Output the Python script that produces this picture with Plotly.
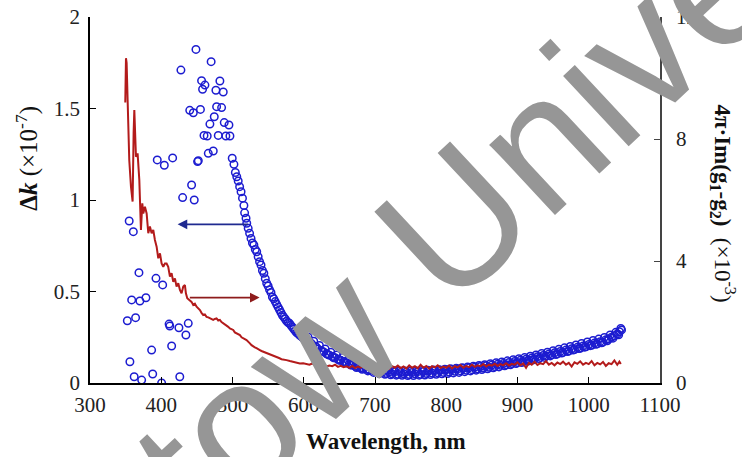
import plotly.graph_objects as go

# ---- Δk (left axis), scattered points at short wavelengths ----
dk_scatter_wl = [352.4, 355, 356, 358.5, 360.8, 362, 364, 368.7, 370, 372.5, 378.5, 386.5, 388, 392.6,
                 394.4, 400.5, 402, 404.3, 411, 412, 414.6, 416, 424.8, 426, 427.6, 430, 434.6, 437.9,
                 440, 442.6, 445, 446.3, 448.7, 451, 452, 455, 456.6, 458, 460, 461.3, 464.5, 466,
                 468.3, 470, 473, 474.4, 476.7, 477.7, 480, 482.3, 484.7, 487, 488.4, 490.7, 495, 496.4]
dk_scatter = [0.34, 0.885, 0.116, 0.454, 0.827, 0.034, 0.357, 0.603, 0.448, 0.016, 0.466, 0.18, 0.049, 0.572,
              1.219, 0.0, 0.536, 1.19, 0.322, 0.311, 0.202, 1.23, 0.302, 0.034, 1.71, 1.013, 0.262, 0.326,
              1.49, 1.082, 1.477, 1.0, 1.823, 1.21, 1.215, 1.495, 1.652, 1.605, 1.353, 1.628, 1.35, 1.255,
              1.415, 1.756, 1.268, 1.455, 1.60, 1.51, 1.353, 1.65, 1.505, 1.59, 1.423, 1.35, 1.41, 1.35]

# ---- Δk (left axis), dense curve (first sampling) ----
dk_curve_wl = [499.6, 502, 504, 506, 508, 510, 512, 514, 516, 517, 519, 520, 522, 524, 526, 528, 530, 532,
               534, 536, 538, 540, 542, 544, 546, 548, 550, 552, 554, 556, 558, 560, 562, 564, 566, 568,
               570, 572, 574, 576, 578, 580, 582, 584, 586, 588, 590, 592, 594, 596, 598, 600,
               604, 608, 612, 616, 620, 624, 628, 632, 636, 640, 644, 648, 652, 656, 660, 664, 668, 672,
               676, 680, 684, 688, 692, 696, 700, 704, 708, 712, 716, 720, 724, 728, 732, 736, 740, 744,
               748, 752, 756, 760, 764, 768, 772, 776, 780, 784, 788, 792, 796, 800, 804, 808, 812, 816,
               820, 824, 828, 832, 836, 840, 844, 848, 852, 856, 860, 864, 868, 872, 876, 880, 884, 888,
               892, 896, 900, 904, 908, 912, 916, 920, 924, 928, 932, 936, 940, 944, 948, 952, 956, 960,
               964, 968, 972, 976, 980, 984, 988, 992, 996, 1000, 1004, 1008, 1012, 1016, 1020, 1024,
               1028, 1032, 1036, 1040, 1043, 1046]
dk_curve = [1.228, 1.195, 1.15, 1.127, 1.104, 1.073, 1.045, 1.01, 0.97, 0.93, 0.90, 0.873, 0.845, 0.818,
            0.79, 0.765, 0.754, 0.73, 0.717, 0.69, 0.663, 0.645, 0.615, 0.60, 0.57, 0.545, 0.53, 0.51,
            0.495, 0.47, 0.46, 0.445, 0.43, 0.415, 0.40, 0.385, 0.37, 0.36, 0.35, 0.338, 0.33, 0.326,
            0.315, 0.305, 0.295, 0.285, 0.275, 0.27, 0.262, 0.256, 0.25, 0.245,
            0.235, 0.222, 0.21, 0.2, 0.185, 0.178, 0.17, 0.16, 0.152, 0.145, 0.138, 0.13, 0.124, 0.118,
            0.11, 0.105, 0.098, 0.092, 0.088, 0.083, 0.079, 0.075, 0.071, 0.07, 0.064, 0.068, 0.058,
            0.062, 0.052, 0.06, 0.05, 0.062, 0.048, 0.058, 0.05, 0.06, 0.046, 0.058, 0.05, 0.062, 0.048,
            0.063, 0.052, 0.066, 0.054, 0.068, 0.056, 0.069, 0.058, 0.072, 0.06, 0.074, 0.064, 0.077,
            0.066, 0.08, 0.07, 0.083, 0.073, 0.086, 0.076, 0.09, 0.082, 0.094, 0.086, 0.098, 0.09, 0.102,
            0.097, 0.106, 0.1, 0.112, 0.106, 0.118, 0.112, 0.124, 0.118, 0.13, 0.126, 0.137, 0.133, 0.144,
            0.14, 0.15, 0.147, 0.158, 0.154, 0.165, 0.16, 0.172, 0.167, 0.18, 0.175, 0.187, 0.183, 0.195,
            0.19, 0.202, 0.198, 0.21, 0.206, 0.218, 0.214, 0.226, 0.223, 0.236, 0.24, 0.25, 0.258, 0.268,
            0.28, 0.29, 0.298]

# ---- Δk (left axis), dense curve (second, interleaved sampling) ----
dk_curve2_wl = [602, 606, 610, 614, 618, 622, 626, 630, 634, 638, 642, 646, 650, 654, 658, 662, 666, 670,
                674, 678, 682, 686, 690, 694, 698, 702, 706, 710, 714, 718, 722, 726, 730, 734, 738, 742,
                746, 750, 754, 758, 762, 766, 770, 774, 778, 782, 786, 790, 794, 798, 802, 806, 810, 814,
                818, 822, 826, 830, 834, 838, 842, 846, 850, 854, 858, 862, 866, 870, 874, 878, 882, 886,
                890, 894, 898, 902, 906, 910, 914, 918, 922, 926, 930, 934, 938, 942, 946, 950, 954, 958,
                962, 966, 970, 974, 978, 982, 986, 990, 994, 998, 1002, 1006, 1010, 1014, 1018, 1022,
                1026, 1030, 1034, 1038, 1042, 1045]
dk_curve2 = [0.252, 0.218, 0.228, 0.195, 0.205, 0.172, 0.186, 0.155, 0.168, 0.138, 0.153, 0.124, 0.139,
             0.111, 0.126, 0.098, 0.113, 0.085, 0.102, 0.075, 0.093, 0.066, 0.085, 0.058, 0.079, 0.052,
             0.074, 0.048, 0.07, 0.045, 0.068, 0.043, 0.066, 0.042, 0.065, 0.041, 0.065, 0.041, 0.066,
             0.043, 0.068, 0.044, 0.069, 0.046, 0.071, 0.048, 0.073, 0.05, 0.075, 0.052, 0.078, 0.055,
             0.081, 0.058, 0.084, 0.062, 0.088, 0.066, 0.092, 0.07, 0.096, 0.074, 0.1, 0.078, 0.105,
             0.083, 0.11, 0.088, 0.115, 0.094, 0.121, 0.1, 0.127, 0.106, 0.133, 0.112, 0.139, 0.119,
             0.146, 0.126, 0.153, 0.133, 0.161, 0.14, 0.168, 0.148, 0.176, 0.156, 0.184, 0.164, 0.192,
             0.172, 0.2, 0.18, 0.208, 0.188, 0.216, 0.196, 0.224, 0.204, 0.232, 0.212, 0.24, 0.22, 0.249,
             0.231, 0.262, 0.245, 0.277, 0.263, 0.298, 0.305]

# ---- 4π·Im(g1-g2) (right axis), red line ----
red_wl = [349.5, 350.5, 351.4, 352.8, 355.1, 357.5, 359.8, 361.2, 362.2, 364.5, 366.8, 369.2, 371.5,
          373.4, 374.8, 377.1, 379.5, 381.8, 384.1, 386.5, 388.8, 391.1, 393.5, 395.8, 398.2, 400.5,
          402.8, 405.2, 407.5, 409.8, 412.2, 414.5, 416.9, 419.2, 421.5, 423.9, 426.2, 428.5, 430.9,
          433.2, 434.6, 436.5, 440.2, 442.5, 444.9, 447.2, 449.6, 452, 454.3, 456.5, 458.9, 461.2,
          463.6, 466, 468.3, 470.6, 472.9, 475.2, 477.6, 480, 482.3, 484.6, 487, 489.3, 491.7, 494,
          496.3, 498.6, 501, 503.3, 505.7, 508, 510.4, 512.7, 515, 517.3, 519.7, 522, 524.4, 526.7,
          529.1, 531.4, 533.7, 536, 538.4, 540.7, 543.1, 545.4, 547.8, 551.3, 554.8, 558.3, 561.8,
          565.3, 568.8, 572.3, 575.8, 580.5, 585.2, 589.9, 594.5, 599.2, 604, 608, 612, 616, 620, 624,
          628, 632, 636, 640, 644, 648, 652, 656, 660, 664, 668, 672, 676, 680, 684, 688, 692, 696, 700,
          704, 708, 712, 716, 720, 724, 728, 732, 736, 740, 744, 748, 752, 756, 760, 764, 768, 772, 776,
          780, 784, 788, 792, 796, 800, 804, 808, 812, 816, 820, 824, 828, 832, 836, 840, 844, 848, 852,
          856, 860, 864, 868, 872, 876, 880, 884, 888, 892, 896, 900, 904, 908, 912, 916, 920, 924, 928,
          932, 936, 940, 944, 948, 952, 956, 960, 964, 968, 972, 976, 980, 984, 988, 992, 996, 1000,
          1004, 1008, 1012, 1016, 1020, 1024, 1028, 1032, 1036, 1040, 1043, 1045]
red_val = [9.2, 10.65, 10.5, 9.28, 7.31, 6.44, 5.95, 8.2, 8.95, 7.42, 7.53, 6.66, 5.02, 5.89, 5.56, 5.78,
           5.56, 4.91, 5.13, 4.91, 5.02, 4.69, 4.47, 4.09, 4.25, 3.92, 3.81, 3.92, 3.92, 3.81, 3.49,
           3.60, 3.32, 3.43, 3.16, 3.27, 3.05, 2.94, 3.16, 3.21, 2.94, 2.78, 2.72, 2.66, 2.56, 2.6, 2.50,
           2.45, 2.39, 2.3, 2.23, 2.25, 2.17, 2.15, 2.12, 2.1, 2.07, 2.1, 2.12, 2.05, 2.07, 2.0, 1.96,
           1.93, 1.90, 1.84, 1.79, 1.77, 1.74, 1.66, 1.63, 1.6, 1.57, 1.5, 1.46, 1.44, 1.41, 1.34, 1.30,
           1.24, 1.19, 1.17, 1.14, 1.1, 1.08, 1.05, 1.03, 0.99, 0.97, 0.95, 0.92, 0.89, 0.86, 0.82, 0.78,
           0.77, 0.75, 0.72, 0.70, 0.66, 0.64, 0.65, 0.62, 0.6, 0.64, 0.58, 0.6, 0.55, 0.58, 0.54, 0.57,
           0.55, 0.6, 0.53, 0.56, 0.52, 0.55, 0.5, 0.56, 0.49, 0.54, 0.5, 0.55, 0.47, 0.53, 0.49, 0.56,
           0.48, 0.52, 0.5, 0.58, 0.47, 0.55, 0.5, 0.57, 0.49, 0.54, 0.47, 0.58, 0.5, 0.55, 0.48, 0.6,
           0.5, 0.56, 0.47, 0.55, 0.51, 0.58, 0.49, 0.54, 0.5, 0.57, 0.48, 0.55, 0.51, 0.59, 0.5, 0.56,
           0.52, 0.6, 0.53, 0.58, 0.55, 0.62, 0.54, 0.6, 0.57, 0.63, 0.56, 0.62, 0.58, 0.65, 0.57, 0.63,
           0.6, 0.68, 0.58, 0.64, 0.5, 0.66, 0.6, 0.7, 0.59, 0.65, 0.62, 0.72, 0.6, 0.66, 0.58, 0.67,
           0.62, 0.7, 0.6, 0.66, 0.54, 0.68, 0.63, 0.71, 0.6, 0.66, 0.62, 0.72, 0.58, 0.66, 0.61, 0.69,
           0.56, 0.65, 0.62, 0.74, 0.6, 0.7, 0.62]

x_ticks = [300, 400, 500, 600, 700, 800, 900, 1000, 1100]
y_left_ticks = [0, 0.5, 1, 1.5, 2]
y_left_labels = ["0", "0.5", "1", "1.5", "2"]
y_right_ticks = [0, 4, 8, 12]

BLUE = "#1c1cd0"
RED = "#b31b1b"
SERIF = "Liberation Serif, Times New Roman, serif"

fig = go.Figure()
fig.add_trace(go.Scatter(x=dk_scatter_wl + dk_curve_wl + dk_curve2_wl, y=dk_scatter + dk_curve + dk_curve2,
                         mode="markers",
                         marker=dict(symbol="circle-open", size=7.5, color=BLUE, line=dict(width=1.5, color=BLUE)),
                         showlegend=False, yaxis="y"))
fig.add_trace(go.Scatter(x=red_wl, y=red_val, mode="lines", line=dict(color=RED, width=2),
                         showlegend=False, yaxis="y2"))

tickfont = dict(family=SERIF, size=21, color="#222")
fig.update_layout(
    width=742, height=457,
    margin=dict(l=90, r=82, t=17, b=74),
    paper_bgcolor="white", plot_bgcolor="white",
    xaxis=dict(range=[300, 1100], tickvals=x_ticks, ticks="inside", ticklen=6, tickwidth=1.2,
               tickcolor="black", showline=True, linecolor="black", linewidth=1.6, showgrid=False,
               zeroline=False, tickfont=tickfont, ticklabelstandoff=2, automargin=False),
    yaxis=dict(range=[0, 2], tickvals=y_left_ticks, ticktext=y_left_labels, ticks="inside", ticklen=6,
               tickwidth=1.2, tickcolor="black", showline=True, linecolor="black", linewidth=1.6,
               showgrid=False, zeroline=False, tickfont=tickfont, ticklabelstandoff=4, automargin=False),
    yaxis2=dict(range=[0, 12], tickvals=y_right_ticks, overlaying="y", side="right", ticks="inside",
                ticklen=6, tickwidth=1.2, tickcolor="#444", showline=True, linecolor="#444", linewidth=1.6,
                showgrid=False, zeroline=False, tickfont=tickfont, ticklabelstandoff=10, automargin=False),
)

anns = [
    dict(text="<b>Wavelength, nm</b>", xref="paper", yref="paper", x=0.52, y=-0.16, xanchor="center",
         yanchor="middle", showarrow=False, font=dict(family=SERIF, size=23, color="#111")),
    dict(text="<b>Δ<i>k</i></b> (×10<sup>-7</sup>)", xref="paper", yref="paper", x=-0.109, y=0.615,
         textangle=-90, xanchor="center", yanchor="middle", showarrow=False,
         font=dict(family=SERIF, size=25, color="#111")),
    dict(text="<b>4π·Im(g<sub>1</sub>-g<sub>2</sub>)</b>  (×10<sup>-3</sup>)", xref="paper", yref="paper",
         x=1.111, y=0.49, textangle=90, xanchor="center", yanchor="middle", showarrow=False,
         font=dict(family=SERIF, size=23, color="#111")),
    dict(x=423, y=0.867, ax=524, ay=0.867, xref="x", yref="y", axref="x", ayref="y", text="",
         showarrow=True, arrowhead=2, arrowsize=1.2, arrowwidth=1.6, arrowcolor="#1f2a90"),
    dict(x=538, y=2.8, ax=438, ay=2.8, xref="x", yref="y2", axref="x", ayref="y2", text="",
         showarrow=True, arrowhead=2, arrowsize=1.2, arrowwidth=1.6, arrowcolor="#8e1c1c"),
    dict(text="tow Unive", xref="paper", yref="paper", x=0.64, y=0.44, textangle=-43,
         xanchor="center", yanchor="middle", showarrow=False,
         font=dict(family="Liberation Sans, Arial, sans-serif", size=182, color="#969696")),
]
fig.update_layout(annotations=anns)
fig.write_html("out.html", post_script="document.body.style.margin='0px';",
               config={"displayModeBar": False})
